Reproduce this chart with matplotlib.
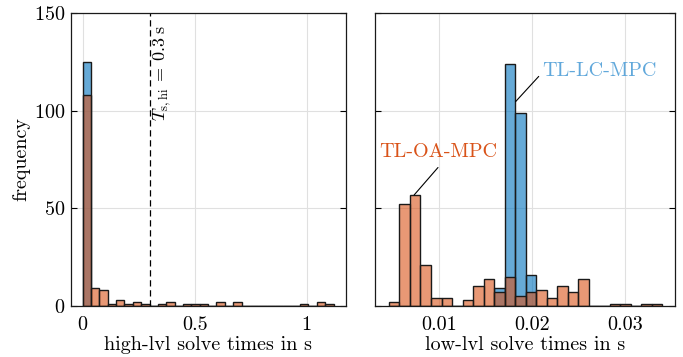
import numpy as np
import matplotlib
matplotlib.use('Agg')
import matplotlib.pyplot as plt

plt.rcParams['font.family'] = 'serif'
plt.rcParams['font.serif'] = ['cmr10']
plt.rcParams['mathtext.fontset'] = 'cm'
plt.rcParams['axes.formatter.use_mathtext'] = True
plt.rcParams['font.size'] = 14.5

# high-level solve times (s), 30 bins from 0 to 1.12
hi_edges = np.linspace(0.0, 1.12, 31)
hi_lc = [125] + [0] * 29
hi_oa = [108, 9, 8, 1, 3, 1, 2, 1, 0, 1, 2, 0, 1, 1, 1, 0, 2, 0, 2, 0,
         0, 0, 0, 0, 0, 0, 1, 0, 2, 1]

# low-level solve times (s), 26 bins from 0.0046 to 0.0340
lo_edges = np.linspace(0.0046, 0.0340, 27)
lo_lc = [0, 0, 0, 0, 0, 0, 0, 0, 0, 0, 9, 124, 99, 16, 0, 0, 0, 0, 0, 0,
         0, 0, 0, 0, 0, 0]
lo_oa = [2, 52, 57, 21, 4, 4, 0, 3, 10, 14, 7, 15, 5, 7, 8, 4, 10, 7, 14, 0,
         0, 1, 1, 0, 1, 1]

T_hi = 0.3

blue = (0.0, 0.447, 0.741, 0.6)
orange = (0.85, 0.325, 0.098, 0.6)
edge = (0.1, 0.1, 0.1)


def draw_hist(ax, edges, counts, color):
    ax.bar(edges[:-1], counts, width=np.diff(edges), align='edge',
           facecolor=color, edgecolor=edge, linewidth=1.0)


def style(ax):
    ax.set_ylim(0, 150)
    ax.set_yticks([0, 50, 100, 150])
    ax.grid(True, color='0.88', linewidth=0.8)
    ax.set_axisbelow(True)
    ax.tick_params(axis='y', direction='in', length=4, width=0.8, right=True,
                   pad=4)
    ax.tick_params(axis='x', length=0, pad=7)
    for s in ax.spines.values():
        s.set_linewidth(0.9)
        s.set_color('0.1')


fig = plt.figure(figsize=(6.83, 3.57), dpi=100)
ax1 = fig.add_axes([0.104, 0.143, 0.402, 0.821])
ax2 = fig.add_axes([0.549, 0.143, 0.440, 0.821])

draw_hist(ax1, hi_edges, hi_lc, blue)
draw_hist(ax1, hi_edges, hi_oa, orange)
ax1.axvline(T_hi, color='k', linestyle=(0, (5, 3)), linewidth=0.9)
ax1.text(T_hi + 0.056, 144, r'$T_{\mathrm{s,hi}}\:=\:0.3\;\mathrm{s}$',
         rotation=90, ha='center', va='top', fontsize=13)
style(ax1)
ax1.set_xlim(-0.052, 1.174)
ax1.set_xticks([0, 0.5, 1])
ax1.set_xticklabels(['0', '0.5', '1'])
ax1.set_xlabel('high-lvl solve times in s', labelpad=2)
ax1.set_ylabel('frequency', labelpad=3)

draw_hist(ax2, lo_edges, lo_lc, blue)
draw_hist(ax2, lo_edges, lo_oa, orange)
style(ax2)
ax2.set_xlim(0.0031, 0.0354)
ax2.set_xticks([0.01, 0.02, 0.03])
ax2.set_xticklabels(['0.01', '0.02', '0.03'])
ax2.set_yticklabels([])
ax2.set_xlabel('low-lvl solve times in s', labelpad=2)

ax2.annotate('TL-LC-MPC', xy=(0.01822, 104.6), xytext=(0.0211, 120),
             color=(0.38, 0.66, 0.86), ha='left', va='center',
             arrowprops=dict(arrowstyle='-', color='k', lw=0.8,
                             shrinkA=1, shrinkB=0, relpos=(0, 0.45)))
ax2.annotate('TL-OA-MPC', xy=(0.00731, 56.8), xytext=(0.00989, 79),
             color=(0.85, 0.325, 0.098), ha='center', va='center',
             arrowprops=dict(arrowstyle='-', color='k', lw=0.8,
                             shrinkA=4, shrinkB=0, relpos=(0.55, 0)))

fig.savefig('out.png', dpi=100)
